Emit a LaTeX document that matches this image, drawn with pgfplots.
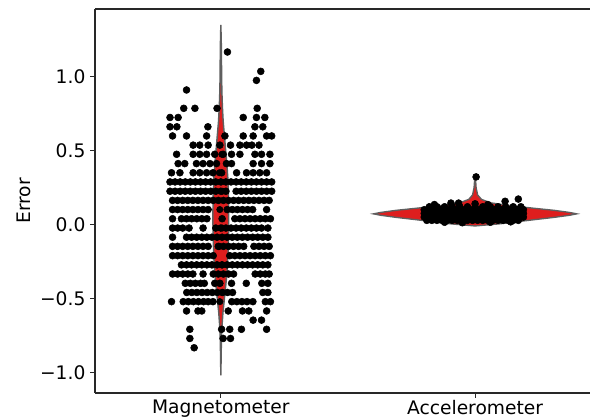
\documentclass[border=0pt]{standalone}
\usepackage{fontspec}
\setmainfont{DejaVu Sans}
\usepackage{pgfplots}
\pgfplotsset{compat=1.18}

\definecolor{vred}{RGB}{222,30,30}
\definecolor{vgray}{RGB}{95,95,95}
\definecolor{spine}{RGB}{40,40,40}

\begin{document}
\begin{tikzpicture}
\begin{axis}[
  name=ax,
  scale only axis,
  width=371.25pt, height=288pt,
  xmin=-0.495, xmax=1.452,
  ymin=-1.140, ymax=1.458,
  axis x line*=bottom, axis y line*=left,
  axis line style={spine, line width=0.8pt},
  tick align=outside,
  major tick length=3.65pt,
  every tick/.style={spine, line width=0.8pt},
  xtick={0,1}, xticklabels={Magnetometer,Accelerometer},
  ytick={-1,-0.5,0,0.5,1}, yticklabels={−1.0,−0.5,0.0,0.5,1.0},
  tick label style={font=\fontsize{14}{16}\selectfont},
  xticklabel style={yshift=2pt},
  ylabel={Error},
  ylabel style={font=\fontsize{14}{16}\selectfont},
  clip=false,
]
% accelerometer violin (under its points)
\addplot[fill=vred, draw=vgray, line width=1pt] coordinates {
(1,-0.01) (1.10,0.005) (1.22,0.03) (1.31,0.048) (1.37,0.062) (1.40,0.072) (1.37,0.082)
(1.31,0.096) (1.22,0.112) (1.14,0.127) (1.06,0.147) (1.025,0.17) (1.01,0.20) (1.004,0.25)
(1.002,0.30) (1,0.34) (0.998,0.30) (0.996,0.25) (0.99,0.20) (0.975,0.17) (0.94,0.147)
(0.86,0.127) (0.78,0.112) (0.69,0.096) (0.63,0.082) (0.60,0.072) (0.63,0.062) (0.69,0.048)
(0.78,0.03) (0.90,0.005) (1,-0.01)} -- cycle;

% magnetometer points
\addplot[only marks, mark=*, mark size=2.6pt, black] coordinates {
(0.026,1.167) (0.157,1.036) (0.140,0.975)
(-0.135,0.910)
(-0.146,0.786) (-0.102,0.786) (-0.015,0.786) (0.143,0.786)
(-0.200,0.724) (-0.168,0.724) (0.088,0.724) (0.140,0.724) (0.173,0.724)
(-0.200,0.661) (-0.173,0.661) (-0.051,0.661) (0.134,0.661) (0.165,0.661)
(-0.190,0.599) (-0.135,0.599) (-0.056,0.599) (0.016,0.599) (0.088,0.599) (0.127,0.599) (0.180,0.599) (0.200,0.599)
(-0.109,0.537) (-0.083,0.537) (-0.050,0.537) (-0.004,0.537) (0.038,0.537) (0.075,0.537) (0.101,0.537) (0.122,0.537) (0.150,0.537)
(-0.174,0.475) (-0.109,0.475) (-0.083,0.475) (-0.056,0.475) (-0.024,0.475) (0.009,0.475) (0.042,0.475) (0.075,0.475) (0.134,0.475) (0.160,0.475) (0.193,0.475)
(-0.168,0.412) (-0.142,0.412) (-0.096,0.412) (-0.070,0.412) (-0.043,0.412) (-0.017,0.412) (0.022,0.412) (0.042,0.412) (0.127,0.412) (0.160,0.412) (0.193,0.412)
(-0.194,0.350) (-0.161,0.350) (-0.109,0.350) (-0.083,0.350) (-0.056,0.350) (-0.031,0.350) (0.003,0.350) (0.062,0.350) (0.101,0.350) (0.127,0.350) (0.153,0.350) (0.180,0.350)
(-0.20,0.288) (-0.18,0.288) (-0.16,0.288) (-0.14,0.288) (-0.12,0.288) (-0.10,0.288) (-0.08,0.288) (-0.06,0.288) (-0.04,0.288) (-0.02,0.288) (0.00,0.288) (0.02,0.288) (0.04,0.288) (0.06,0.288) (0.08,0.288) (0.10,0.288) (0.12,0.288) (0.14,0.288) (0.16,0.288) (0.18,0.288) (0.20,0.288)
(-0.20,0.225) (-0.18,0.225) (-0.16,0.225) (-0.14,0.225) (-0.12,0.225) (-0.10,0.225) (-0.08,0.225) (-0.06,0.225) (-0.04,0.225) (-0.02,0.225) (0.00,0.225) (0.02,0.225) (0.06,0.225) (0.08,0.225) (0.10,0.225) (0.12,0.225) (0.14,0.225) (0.16,0.225) (0.18,0.225) (0.20,0.225)
(-0.19,0.163) (-0.17,0.163) (-0.15,0.163) (-0.13,0.163) (-0.11,0.163) (-0.09,0.163) (-0.07,0.163) (-0.05,0.163) (-0.03,0.163) (-0.01,0.163) (0.01,0.163) (0.03,0.163) (0.05,0.163) (0.07,0.163) (0.09,0.163) (0.11,0.163) (0.13,0.163) (0.15,0.163) (0.17,0.163) (0.19,0.163)
(-0.19,0.101) (-0.17,0.101) (-0.15,0.101) (-0.13,0.101) (-0.11,0.101) (-0.09,0.101) (-0.07,0.101) (-0.05,0.101) (0.025,0.101) (0.045,0.101) (0.065,0.101) (0.085,0.101) (0.105,0.101) (0.125,0.101) (0.180,0.101)
(-0.19,0.039) (-0.155,0.039) (-0.135,0.039) (-0.115,0.039) (-0.095,0.039) (-0.075,0.039) (-0.055,0.039) (0.005,0.039) (0.055,0.039) (0.075,0.039) (0.095,0.039) (0.115,0.039) (0.135,0.039) (0.155,0.039) (0.175,0.039) (0.195,0.039)
(-0.19,-0.024) (-0.17,-0.024) (-0.15,-0.024) (-0.125,-0.024) (-0.07,-0.024) (-0.02,-0.024) (0.00,-0.024) (0.02,-0.024) (0.04,-0.024) (0.06,-0.024) (0.08,-0.024) (0.10,-0.024) (0.12,-0.024) (0.14,-0.024) (0.16,-0.024) (0.185,-0.024)
(-0.19,-0.086) (-0.135,-0.086) (-0.115,-0.086) (-0.095,-0.086) (-0.075,-0.086) (-0.055,-0.086) (-0.035,-0.086) (-0.015,-0.086) (0.005,-0.086) (0.025,-0.086) (0.045,-0.086) (0.065,-0.086) (0.085,-0.086) (0.105,-0.086) (0.125,-0.086) (0.145,-0.086) (0.165,-0.086) (0.185,-0.086)
(-0.19,-0.148) (-0.17,-0.148) (-0.15,-0.148) (-0.13,-0.148) (-0.11,-0.148) (-0.09,-0.148) (-0.07,-0.148) (-0.05,-0.148) (-0.01,-0.148) (0.01,-0.148) (0.03,-0.148) (0.05,-0.148) (0.07,-0.148) (0.09,-0.148) (0.13,-0.148) (0.15,-0.148) (0.17,-0.148) (0.19,-0.148)
(-0.19,-0.211) (-0.17,-0.211) (-0.15,-0.211) (-0.13,-0.211) (-0.11,-0.211) (-0.09,-0.211) (-0.07,-0.211) (-0.05,-0.211) (-0.03,-0.211) (0.035,-0.211) (0.055,-0.211) (0.075,-0.211) (0.095,-0.211) (0.115,-0.211) (0.135,-0.211) (0.155,-0.211) (0.175,-0.211) (0.195,-0.211)
(-0.155,-0.273) (-0.135,-0.273) (-0.115,-0.273) (-0.095,-0.273) (-0.075,-0.273) (-0.055,-0.273) (-0.035,-0.273) (-0.015,-0.273) (0.005,-0.273) (0.025,-0.273) (0.045,-0.273) (0.065,-0.273) (0.085,-0.273) (0.105,-0.273) (0.125,-0.273) (0.145,-0.273) (0.165,-0.273) (0.185,-0.273)
(-0.19,-0.335) (-0.17,-0.335) (-0.15,-0.335) (-0.13,-0.335) (-0.11,-0.335) (-0.07,-0.335) (-0.03,-0.335) (-0.01,-0.335) (0.01,-0.335) (0.03,-0.335) (0.05,-0.335) (0.135,-0.335) (0.155,-0.335) (0.175,-0.335) (0.190,-0.335)
(-0.14,-0.398) (-0.12,-0.398) (-0.10,-0.398) (-0.08,-0.398) (-0.065,-0.398) (-0.024,-0.398) (-0.004,-0.398) (0.042,-0.398) (0.100,-0.398) (0.161,-0.398) (0.185,-0.398)
(-0.134,-0.460) (-0.114,-0.460) (-0.094,-0.460) (-0.074,-0.460) (-0.054,-0.460) (-0.034,-0.460) (-0.014,-0.460) (0.006,-0.460) (0.026,-0.460) (0.046,-0.460) (0.165,-0.460) (0.185,-0.460)
(-0.194,-0.522) (-0.148,-0.522) (-0.128,-0.522) (-0.108,-0.522) (-0.088,-0.522) (-0.068,-0.522) (-0.050,-0.522) (-0.031,-0.522) (0.043,-0.522) (0.063,-0.522) (0.083,-0.522) (0.103,-0.522) (0.126,-0.522) (0.175,-0.522) (0.195,-0.522)
(-0.135,-0.585) (-0.090,-0.585) (-0.075,-0.585) (0.029,-0.585) (0.085,-0.585) (0.110,-0.585) (0.180,-0.585)
(0.127,-0.647) (0.160,-0.647)
(-0.122,-0.709) (0.003,-0.709) (0.035,-0.709) (0.081,-0.709) (0.180,-0.709)
(-0.122,-0.771) (0.009,-0.771) (0.038,-0.771)
(-0.105,-0.834)
};

% accelerometer points
\addplot[only marks, mark=*, mark size=2.6pt, black] coordinates {
(1.004,0.322)
(0.88,0.015) (0.95,0.012) (1.06,0.015) (1.14,0.018)
(0.81,0.028) (0.83,0.028) (0.85,0.028) (0.87,0.028) (0.89,0.028) (0.91,0.028) (0.93,0.028) (0.95,0.028) (0.97,0.028) (0.99,0.028) (1.01,0.028) (1.03,0.028) (1.05,0.028) (1.07,0.028) (1.09,0.028) (1.11,0.028) (1.13,0.028) (1.15,0.028) (1.17,0.028)
(0.80,0.05) (0.82,0.05) (0.84,0.05) (0.86,0.05) (0.88,0.05) (0.90,0.05) (0.92,0.05) (0.94,0.05) (0.96,0.05) (0.98,0.05) (1.00,0.05) (1.02,0.05) (1.04,0.05) (1.06,0.05) (1.08,0.05) (1.10,0.05) (1.12,0.05) (1.14,0.05) (1.16,0.05) (1.18,0.05) (1.19,0.05)
(0.80,0.075) (0.82,0.075) (0.84,0.075) (0.86,0.075) (0.88,0.075) (0.90,0.075) (0.92,0.075) (0.94,0.075) (0.96,0.075) (0.98,0.075) (1.00,0.075) (1.02,0.075) (1.04,0.075) (1.06,0.075) (1.08,0.075) (1.10,0.075) (1.12,0.075) (1.14,0.075) (1.16,0.075) (1.18,0.075) (1.19,0.075)
(0.80,0.10) (0.82,0.10) (0.84,0.10) (0.86,0.10) (0.88,0.10) (0.90,0.10) (0.92,0.10) (0.94,0.10) (0.96,0.10) (0.98,0.10) (1.00,0.10) (1.02,0.10) (1.04,0.10) (1.06,0.10) (1.08,0.10) (1.10,0.10) (1.12,0.10) (1.14,0.10) (1.16,0.10) (1.18,0.10) (1.19,0.10)
(0.82,0.12) (0.85,0.12) (0.88,0.12) (0.91,0.12) (0.94,0.12) (0.97,0.12) (1.00,0.12) (1.03,0.12) (1.06,0.12) (1.09,0.12) (1.12,0.12) (1.15,0.12) (1.18,0.12)
(0.84,0.135) (0.905,0.145) (0.935,0.145) (1.00,0.14) (1.05,0.135) (1.118,0.157) (1.17,0.172)
};

% magnetometer violin (drawn over its points)
\addplot[fill=vred, draw=vgray, line width=1.1pt] coordinates {
(0,1.35) (0.002,1.2) (0.003,1.0) (0.004,0.9) (0.006,0.8) (0.009,0.7) (0.014,0.6)
(0.019,0.5) (0.024,0.4) (0.028,0.3) (0.030,0.2) (0.031,0.1) (0.031,0.0) (0.030,-0.1)
(0.028,-0.2) (0.025,-0.3) (0.020,-0.4) (0.014,-0.5) (0.008,-0.6) (0.004,-0.7)
(0.002,-0.8) (0.001,-0.9) (0,-1.02) (-0.001,-0.9) (-0.002,-0.8) (-0.004,-0.7)
(-0.008,-0.6) (-0.014,-0.5) (-0.020,-0.4) (-0.025,-0.3) (-0.028,-0.2) (-0.030,-0.1)
(-0.031,0.0) (-0.031,0.1) (-0.030,0.2) (-0.028,0.3) (-0.024,0.4) (-0.019,0.5)
(-0.014,0.6) (-0.009,0.7) (-0.006,0.8) (-0.004,0.9) (-0.003,1.0) (-0.002,1.2) (0,1.35)} -- cycle;

% points that show inside the magnetometer violin
\addplot[only marks, mark=*, mark size=2.4pt, black] coordinates {
(0.004,0.475) (-0.006,0.350) (0.006,0.225) (-0.004,0.101) (0.006,-0.024)
(-0.006,-0.148) (0.004,-0.273) (-0.004,-0.398) (0.006,-0.460) (-0.004,-0.522)
};

\draw[spine, line width=0.8pt] (rel axis cs:0,1) -- (rel axis cs:1,1);
\end{axis}
\pgfresetboundingbox
\path[use as bounding box] ([xshift=-71.25pt,yshift=-19.5pt]ax.south west)
  rectangle ([yshift=6.75pt]ax.north east);
\end{tikzpicture}
\end{document}
